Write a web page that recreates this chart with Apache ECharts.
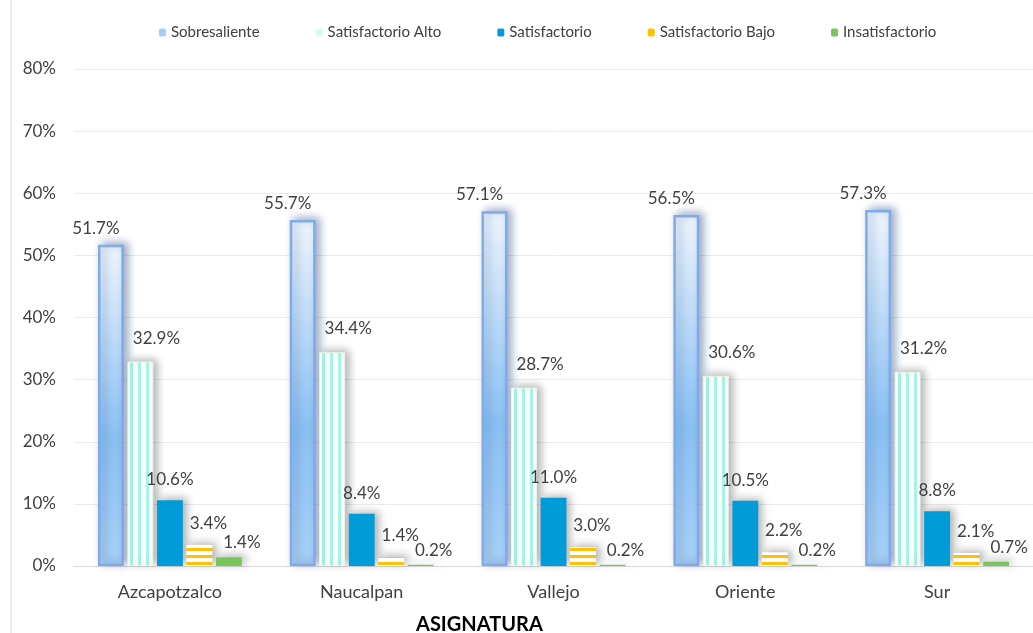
<!DOCTYPE html>
<html>
<head>
<meta charset="utf-8">
<script src="https://cdn.jsdelivr.net/npm/echarts@6/dist/echarts.min.js"></script>
<style>
  html, body { margin: 0; padding: 0; background: #fff; }
  #chart { width: 1033px; height: 633px; }
</style>
</head>
<body>
<div id="chart"></div>
<script>
const categories = ["Azcapotzalco", "Naucalpan", "Vallejo", "Oriente", "Sur"];
const sobresaliente = [51.7, 55.7, 57.1, 56.5, 57.3];
const satisfactorioAlto = [32.9, 34.4, 28.7, 30.6, 31.2];
const satisfactorio = [10.6, 8.4, 11.0, 10.5, 8.8];
const satisfactorioBajo = [3.4, 1.4, 3.0, 2.2, 2.1];
const insatisfactorio = [1.4, 0.2, 0.2, 0.2, 0.7];
const yTicks = [0, 10, 20, 30, 40, 50, 60, 70, 80];

// patrones de rayas (verticales y horizontales)
function stripes(vertical, color, size, period) {
    const c = document.createElement("canvas");
    c.width = period;
    c.height = period;
    const ctx = c.getContext("2d");
    ctx.fillStyle = "#ffffff";
    ctx.fillRect(0, 0, period, period);
    ctx.fillStyle = color;
    if (vertical) ctx.fillRect(2, 0, size, period);
    else ctx.fillRect(0, 2, period, size);
    return c;
}

const chart = echarts.init(document.getElementById("chart"));
const font = "Lato, 'Noto Sans', sans-serif";
const txt = "#404040";

function labelCfg(dx, dy) {
    return {
        show: true,
        position: "top",
        distance: 4,
        offset: [dx, dy],
        color: txt,
        fontSize: 17,
        fontFamily: font,
        formatter: p => p.value.toFixed(1) + "%"
    };
}

const shadow = { shadowBlur: 8, shadowColor: "rgba(0,0,0,0.3)", shadowOffsetX: 4, shadowOffsetY: -2 };

const option = {
    animation: false,
    textStyle: { fontFamily: font },
    title: {
        text: "ASIGNATURA",
        left: 411,
        top: 610,
        textStyle: { fontSize: 20, fontWeight: "bold", color: "#000", fontFamily: font }
    },
    legend: {
        left: 154,
        top: 20,
        itemWidth: 7,
        itemHeight: 8,
        itemGap: 56,
        textStyle: { color: txt, fontSize: 15, fontFamily: font },
        data: [
            { name: "Sobresaliente", itemStyle: { color: "#a8cdf4", borderWidth: 0, shadowBlur: 0 } },
            { name: "Satisfactorio Alto", itemStyle: { color: "#d8fbf2", borderWidth: 0, shadowBlur: 0 } },
            { name: "Satisfactorio", itemStyle: { shadowBlur: 0 } },
            { name: "Satisfactorio Bajo", itemStyle: { color: "#ffc000", shadowBlur: 0 } },
            { name: "Insatisfactorio", itemStyle: { shadowBlur: 0 } }
        ]
    },
    graphic: [{
        type: "line",
        shape: { x1: 11, y1: 0, x2: 11, y2: 633 },
        style: { stroke: "#d9d9d9", lineWidth: 1 }
    }],
    grid: { left: 74, top: 69, width: 963, bottom: 67 },
    xAxis: {
        type: "category",
        data: categories,
        axisLine: { lineStyle: { color: "#d9d9d9" } },
        axisTick: { show: false },
        axisLabel: { color: txt, fontSize: 18, fontFamily: font, margin: 17 }
    },
    yAxis: {
        type: "value",
        min: yTicks[0],
        max: yTicks[yTicks.length - 1],
        interval: 10,
        axisLabel: { color: txt, fontSize: 17, fontFamily: font, margin: 18, formatter: "{value}%" },
        splitLine: { lineStyle: { color: "#ebebeb" } },
        axisLine: { show: false },
        axisTick: { show: false }
    },
    series: [
        {
            name: "Sobresaliente",
            type: "bar",
            data: sobresaliente,
            barCategoryGap: "25%",
            barGap: "14%",
            itemStyle: Object.assign({
                color: new echarts.graphic.LinearGradient(0, 0, 0, 1, [
                    { offset: 0, color: "#eef5fd" },
                    { offset: 0.6, color: "#8bc0f3" },
                    { offset: 1, color: "#a9d1f6" }
                ]),
                borderColor: "#7fabe6",
                borderWidth: 2.5
            }, shadow, { shadowColor: "rgba(40,70,130,0.45)" }),
            label: labelCfg(-15, -4)
        },
        {
            name: "Satisfactorio Alto",
            type: "bar",
            data: satisfactorioAlto,
            itemStyle: Object.assign({
                color: { image: stripes(true, "#a6f6e6", 3, 8), repeat: "repeat" },
                borderColor: "#eaf8ea",
                borderWidth: 1
            }, shadow),
            label: labelCfg(16, -11)
        },
        {
            name: "Satisfactorio",
            type: "bar",
            data: satisfactorio,
            itemStyle: Object.assign({ color: "#009cd9" }, shadow),
            label: labelCfg(0, -8)
        },
        {
            name: "Satisfactorio Bajo",
            type: "bar",
            data: satisfactorioBajo,
            itemStyle: Object.assign({
                color: { image: stripes(false, "#ffc000", 3, 7), repeat: "repeat" }
            }, shadow),
            label: labelCfg(9, -9)
        },
        {
            name: "Insatisfactorio",
            type: "bar",
            data: insatisfactorio,
            itemStyle: Object.assign({ color: "#77c55c" }, shadow),
            label: labelCfg(13, -2)
        }
    ]
};

chart.setOption(option);
</script>
</body>
</html>
